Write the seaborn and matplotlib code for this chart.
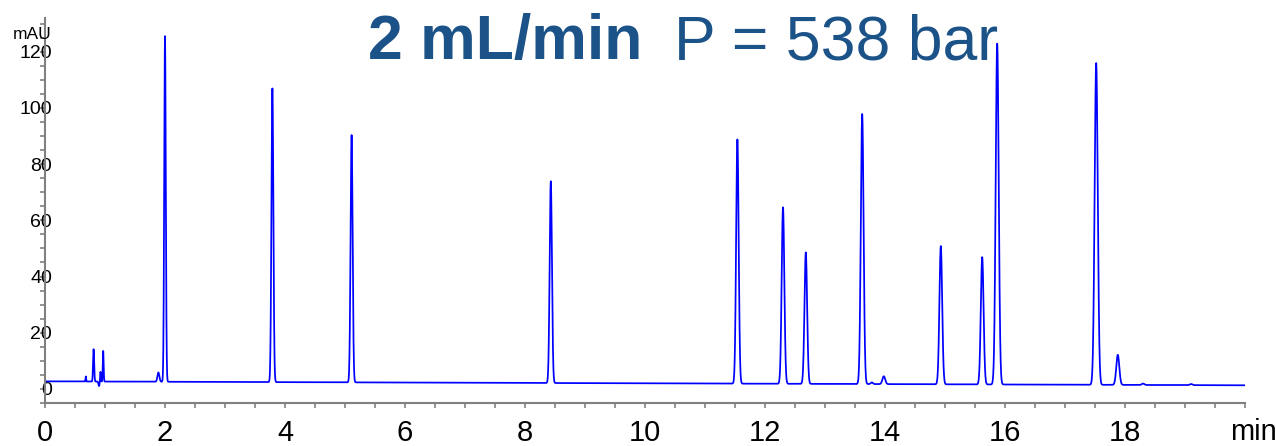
import numpy as np
import pandas as pd
import matplotlib
matplotlib.use("Agg")
import matplotlib.pyplot as plt
from matplotlib.ticker import MultipleLocator, FixedLocator
import seaborn as sns

# Peak table of the chromatogram: retention time (min), height above baseline (mAU), width (sigma, min)
peak_times = [0.68, 0.81, 0.90, 0.925, 0.97, 1.89, 2.00, 3.79, 5.11, 8.43,
              11.54, 12.30, 12.68, 13.62, 13.78, 13.98, 14.93, 15.62, 15.87,
              17.52, 17.88, 18.30, 19.10]
peak_heights = [1.8, 11.5, -1.6, 3.5, 10.9, 3.3, 123.0, 104.5, 88.0, 71.8,
                86.9, 62.8, 46.8, 96.1, 0.6, 2.8, 49.2, 45.3, 121.3,
                114.5, 10.7, 0.5, 0.4]
peak_sigmas = [0.005, 0.009, 0.009, 0.006, 0.007, 0.016, 0.013, 0.016, 0.017, 0.019,
               0.021, 0.022, 0.022, 0.023, 0.018, 0.023, 0.023, 0.023, 0.025,
               0.026, 0.025, 0.02, 0.02]

# Baseline level at the start and end of the run (mAU)
baseline_start = 2.7
baseline_end = 1.3

run_start, run_end = 0.0, 20.0

t = np.arange(run_start, run_end, 0.002)
signal = baseline_start + (baseline_end - baseline_start) * (t - run_start) / (run_end - run_start)
for rt, h, s in zip(peak_times, peak_heights, peak_sigmas):
    signal = signal + h * np.exp(-0.5 * ((t - rt) / s) ** 2)

df = pd.DataFrame({"time": t, "mAU": signal})

sns.set_theme(style="white")
plt.rcParams["font.family"] = ["Liberation Sans", "DejaVu Sans"]

W, H = 1276, 446
fig = plt.figure(figsize=(W / 100, H / 100), dpi=100)
ax = fig.add_axes([45 / W, 43 / H, 1200 / W, 385 / H])

sns.lineplot(data=df, x="time", y="mAU", ax=ax, color="#0000ff", linewidth=1.25,
             estimator=None, sort=False)

ax.set_xlim(run_start, run_end)
ax.set_ylim(-5, 132)
ax.set_xlabel("")
ax.set_ylabel("")

ax.xaxis.set_major_locator(FixedLocator(np.arange(0, 19, 2)))
ax.xaxis.set_minor_locator(MultipleLocator(0.5))
ax.yaxis.set_major_locator(FixedLocator(np.arange(0, 121, 20)))
ax.yaxis.set_minor_locator(MultipleLocator(5))

spine_col = "#808080"
for side in ["top", "right"]:
    ax.spines[side].set_visible(False)
for side in ["left", "bottom"]:
    ax.spines[side].set_color(spine_col)
    ax.spines[side].set_linewidth(1.5)

ax.tick_params(axis="x", which="both", direction="out", length=3.5, width=1.2,
               color=spine_col, bottom=True)
ax.tick_params(axis="x", which="major", labelsize=21, pad=8, labelcolor="black")
ax.tick_params(axis="y", which="both", direction="out", length=3.6, width=1.2,
               color=spine_col, left=True)
ax.tick_params(axis="y", which="major", labelsize=14, pad=-8.6, labelcolor="black")

fig.text(1230 / W, 1 - 440 / H, "min", ha="left", va="baseline", fontsize=21, color="black")
fig.text(13 / W, 1 - 39 / H, "mAU", ha="left", va="baseline", fontsize=12.5, color="black")

title_col = "#1b5287"
fig.text(368 / W, 1 - 59 / H, "2 mL/min", ha="left", va="baseline", fontsize=45,
         fontweight="bold", color=title_col)
fig.text(674 / W, 1 - 59 / H, "P = 538 bar", ha="left", va="baseline", fontsize=45,
         color=title_col)

fig.savefig("out.png", dpi=100, facecolor="white")
